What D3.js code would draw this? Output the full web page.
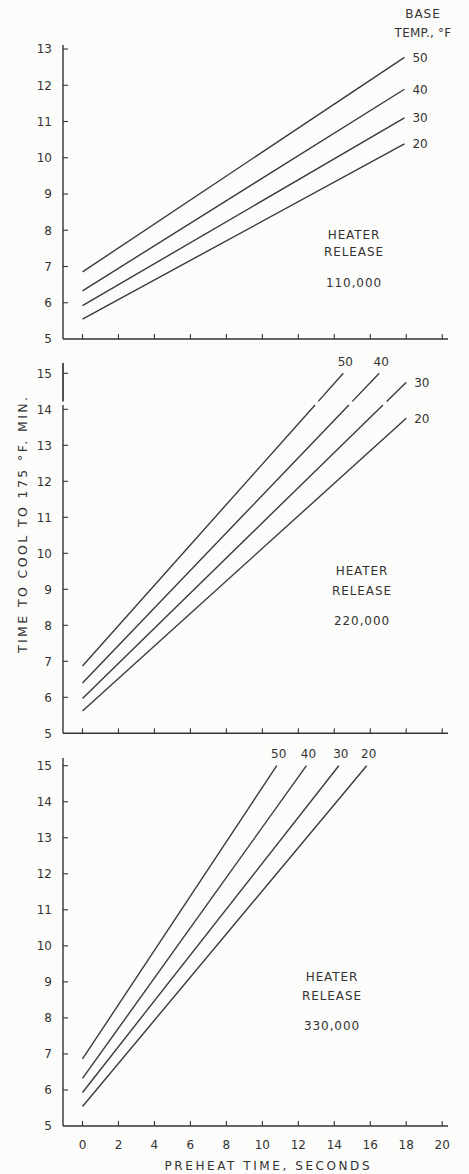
<!DOCTYPE html>
<html><head><meta charset="utf-8">
<script src="https://cdn.jsdelivr.net/npm/d3@7"></script>
<style>body{margin:0;background:#fcfcfa}svg{display:block}</style>
</head><body><svg id="c" width="469" height="1174"></svg>
<script>
// ---- data ----
const xTicks = [0,2,4,6,8,10,12,14,16,18,20];
const baseTemps = [50,40,30,20];
const releases = ["110,000","220,000","330,000"];
const yTicksTop = [5,6,7,8,9,10,11,12,13];
const yTicksLower = [5,6,7,8,9,10,11,12,13,14,15];
// Heater release 110,000
const start110 = [6.85,6.33,5.92,5.55];
const endX110  = [17.9,17.9,17.9,17.9];
const endY110  = [12.77,11.89,11.1,10.38];
// Heater release 220,000
const start220 = [6.87,6.4,5.97,5.62];
const endX220  = [14.5,16.5,18,18];
const endY220  = [15,15,14.75,13.75];
const gap220   = [14.12,14.22];   // paste-up break in the drawing
// Heater release 330,000
const start330 = [6.86,6.32,5.93,5.54];
const endX330  = [10.8,12.45,14.25,15.8];
const endY330  = [15,15,15,15];

// ---- layout ----
const svg = d3.select("#c");
const ink = "#333", lineInk = "#3a3a3a";
const FONT = "'DejaVu Sans', sans-serif";
const x = d3.scaleLinear().domain([0,20]).range([82.5,442.2]);
const axisX = 63, axisRight = 448;

const panels = [
  {starts:start110, endX:endX110, endY:endY110, yDom:[5,13], yRange:[339,49], axisTop:45,
   yTicks:yTicksTop, release:releases[0], tx:354, ty:[235,252,283], gap:null, xLabels:false},
  {starts:start220, endX:endX220, endY:endY220, yDom:[5,15], yRange:[733.3,373.3], axisTop:363,
   yTicks:yTicksLower, release:releases[1], tx:362, ty:[570.7,590.7,620.7], gap:gap220, xLabels:false},
  {starts:start330, endX:endX330, endY:endY330, yDom:[5,15], yRange:[1126,765.7], axisTop:758,
   yTicks:yTicksLower, release:releases[2], tx:332, ty:[976.7,996,1025.7], gap:null, xLabels:true}
];

panels.forEach(p => {
  const y = d3.scaleLinear().domain(p.yDom).range(p.yRange);
  const g = svg.append("g");
  const yBottom = p.yRange[0];

  if (p.gap) {
    g.append("line").attr("x1",axisX).attr("x2",axisX).attr("y1",p.axisTop).attr("y2",y(p.gap[1]))
      .attr("stroke",ink).attr("stroke-width",1.7);
    g.append("line").attr("x1",axisX).attr("x2",axisX).attr("y1",y(p.gap[0])).attr("y2",yBottom)
      .attr("stroke",ink).attr("stroke-width",1.4);
  } else {
    g.append("line").attr("x1",axisX).attr("x2",axisX).attr("y1",p.axisTop).attr("y2",yBottom)
      .attr("stroke",ink).attr("stroke-width",1.4);
  }
  g.append("line").attr("x1",axisX).attr("x2",axisRight).attr("y1",yBottom).attr("y2",yBottom)
    .attr("stroke",ink).attr("stroke-width",1.4);

  g.selectAll(".yt").data(p.yTicks.filter(v => v>p.yDom[0])).enter().append("line")
    .attr("x1",axisX).attr("x2",axisX+5).attr("y1",d=>y(d)).attr("y2",d=>y(d))
    .attr("stroke",ink).attr("stroke-width",1.1);
  g.selectAll(".yl").data(p.yTicks).enter().append("text")
    .attr("x",52).attr("y",d=>y(d)).attr("dy","0.36em").attr("text-anchor","end")
    .attr("font-family",FONT).attr("font-size",12).attr("fill",ink).text(d=>d);

  g.selectAll(".xt").data(xTicks).enter().append("line")
    .attr("x1",d=>x(d)).attr("x2",d=>x(d)).attr("y1",yBottom).attr("y2",yBottom-5)
    .attr("stroke",ink).attr("stroke-width",1.1);
  if (p.xLabels) {
    g.selectAll(".xl").data(xTicks).enter().append("text")
      .attr("x",d=>x(d)).attr("y",yBottom+19).attr("dy","0.36em").attr("text-anchor","middle")
      .attr("font-family",FONT).attr("font-size",12).attr("fill",ink).text(d=>d);
  }

  baseTemps.forEach((t,i) => {
    const x0=0, y0=p.starts[i], x1=p.endX[i], y1=p.endY[i];
    const xAt = yy => x0 + (yy-y0)*(x1-x0)/(y1-y0);
    let segs;
    if (p.gap && y1 > p.gap[1]) {
      segs = [[[x0,y0],[xAt(p.gap[0]),p.gap[0]]],[[xAt(p.gap[1]),p.gap[1]],[x1,y1]]];
    } else segs = [[[x0,y0],[x1,y1]]];
    segs.forEach(s => {
      g.append("path").attr("d", d3.line().x(d=>x(d[0])).y(d=>y(d[1]))(s))
        .attr("fill","none").attr("stroke",lineInk).attr("stroke-width",1.4);
    });
    const ex = x(x1), ey = y(y1);
    const top = y1 >= p.yDom[1];
    g.append("text")
      .attr("x", top ? ex+2 : ex+8).attr("y", top ? ey-12 : ey).attr("dy","0.36em")
      .attr("text-anchor", top ? "middle" : "start")
      .attr("font-family",FONT).attr("font-size",12).attr("fill",ink).text(t);
  });

  [["HEATER",p.ty[0]],["RELEASE",p.ty[1]],[p.release,p.ty[2]]].forEach(([s,yy]) => {
    g.append("text").attr("x",p.tx).attr("y",yy).attr("dy","0.36em").attr("text-anchor","middle")
      .attr("font-family",FONT).attr("font-size",12).attr("letter-spacing",0.9)
      .attr("fill",ink).text(s);
  });
});

svg.append("text").attr("x",423).attr("y",14).attr("dy","0.36em").attr("text-anchor","middle")
  .attr("font-family",FONT).attr("font-size",12).attr("letter-spacing",1).attr("fill",ink).text("BASE");
svg.append("text").attr("x",423).attr("y",33).attr("dy","0.36em").attr("text-anchor","middle")
  .attr("font-family",FONT).attr("font-size",12).attr("letter-spacing",0.2).attr("fill",ink).text("TEMP., °F");

svg.append("text").attr("transform","translate(22,525) rotate(-90)").attr("dy","0.36em")
  .attr("text-anchor","middle").attr("font-family",FONT).attr("font-size",12.5)
  .attr("fill",ink).attr("textLength",256).attr("lengthAdjust","spacing")
  .text("TIME TO COOL TO 175 °F. MIN.");
svg.append("text").attr("x",267).attr("y",1166).attr("dy","0.36em").attr("text-anchor","middle")
  .attr("font-family",FONT).attr("font-size",12).attr("fill",ink)
  .attr("textLength",205).attr("lengthAdjust","spacing")
  .text("PREHEAT TIME, SECONDS");
</script></body></html>
